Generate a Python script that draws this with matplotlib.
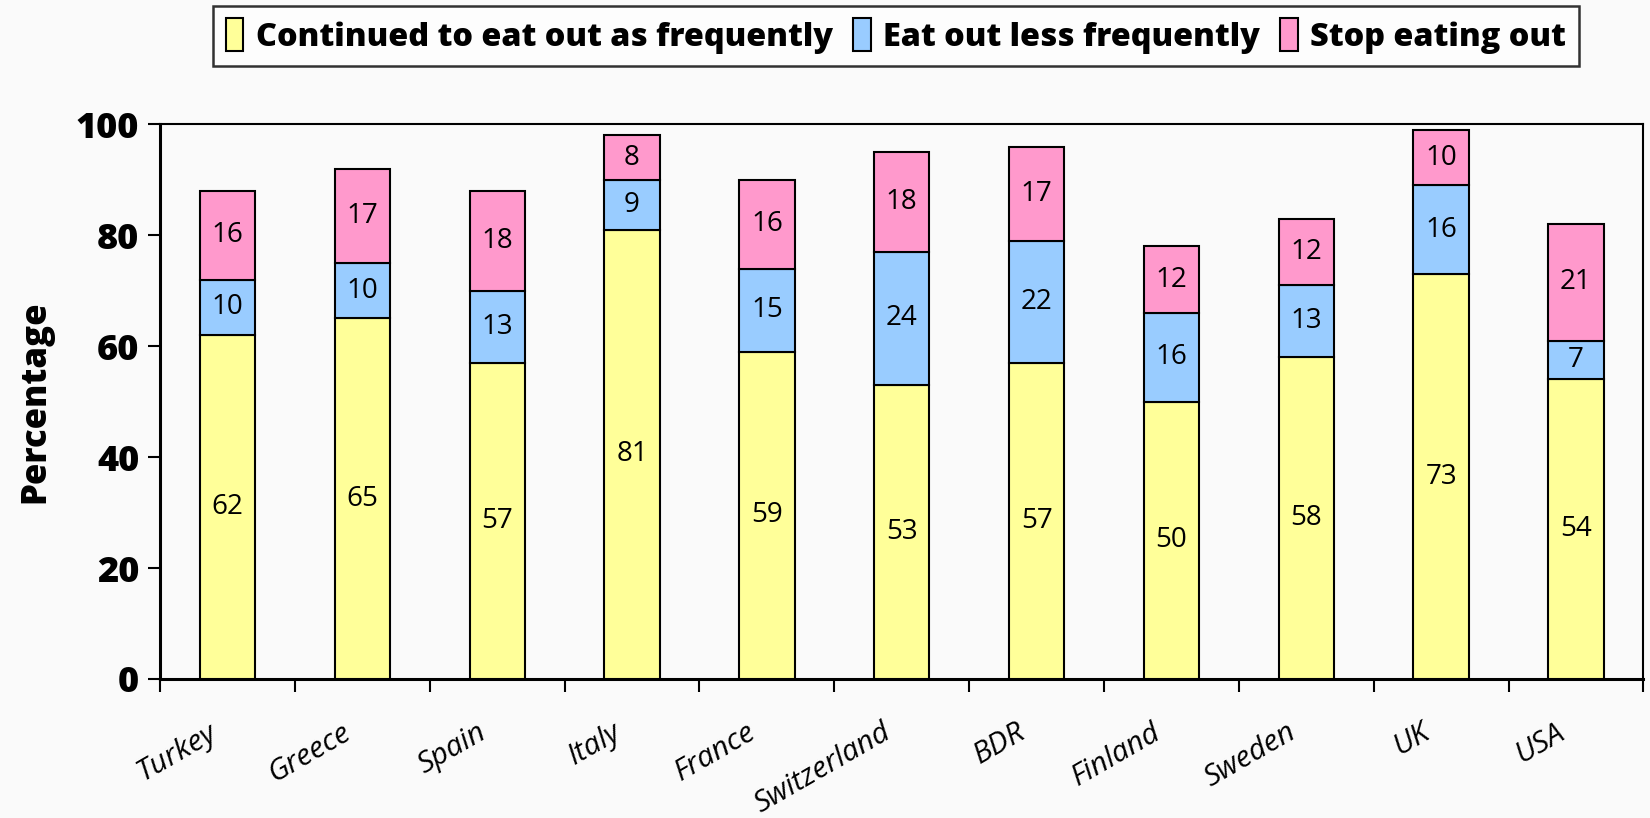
import matplotlib
matplotlib.use("Agg")
import matplotlib.pyplot as plt
import numpy as np
from matplotlib.transforms import ScaledTranslation

countries = ["Turkey", "Greece", "Spain", "Italy", "France", "Switzerland",
             "BDR", "Finland", "Sweden", "UK", "USA"]
same_freq = [62, 65, 57, 81, 59, 53, 57, 50, 58, 73, 54]
less_freq = [10, 10, 13, 9, 15, 24, 22, 16, 13, 16, 7]
stopped = [16, 17, 18, 8, 16, 18, 17, 12, 12, 10, 21]
series_names = ["Continued to eat out as frequently",
                "Eat out less frequently",
                "Stop eating out"]
colors = ["#FFFF99", "#99CCFF", "#FF99CC"]
y_ticks = [0, 20, 40, 60, 80, 100]

plt.rcParams['font.family'] = ['Open Sans', 'DejaVu Sans']
bg = "#fafafa"

fig = plt.figure(figsize=(16.5, 8.18), dpi=100, facecolor=bg)
ax = fig.add_axes([0.097, 0.170, 0.899, 0.678], facecolor=bg)

x = np.arange(len(countries))
width = 0.41
bottom = np.zeros(len(countries))
handles = []
for vals, col, name in zip([same_freq, less_freq, stopped], colors, series_names):
    vals = np.array(vals, dtype=float)
    bars = ax.bar(x, vals, width, bottom=bottom, color=col, edgecolor="black",
                  linewidth=1.5, label=name, zorder=3)
    handles.append(bars)
    for xi, b, v in zip(x, bottom, vals):
        ax.text(xi, b + v / 2, f"{int(v)}", ha="center", va="center",
                fontsize=20, color="black", zorder=4)
    bottom += vals

ax.set_xlim(-0.5, len(countries) - 0.5)
ax.set_ylim(0, 100)
ax.set_yticks(y_ticks)
ax.set_yticklabels([str(t) for t in y_ticks], fontsize=26, fontweight=800)
ax.tick_params(axis="y", direction="out", length=9, width=1.5, pad=6)

# category ticks sit at slot boundaries, labels at slot centres
ax.set_xticks(np.arange(len(countries) + 1) - 0.5)
ax.set_xticklabels([])
ax.tick_params(axis="x", which="major", direction="out", length=9, width=1.5)
ax.set_xticks(x, minor=True)
ax.set_xticklabels(countries, minor=True, fontsize=21.5, style="italic",
                   rotation=30, ha="right", rotation_mode="anchor")
ax.tick_params(axis="x", which="minor", length=0, pad=28)
offset = ScaledTranslation(-0.2, 0, fig.dpi_scale_trans)
for lab in ax.get_xticklabels(minor=True):
    lab.set_transform(lab.get_transform() + offset)

ax.set_ylabel("Percentage", fontsize=25, fontweight=800, labelpad=16)

ax.spines["left"].set_linewidth(2.2)
ax.spines["bottom"].set_linewidth(2.2)
ax.spines["top"].set_linewidth(1.5)
ax.spines["right"].set_linewidth(1.5)

leg = fig.legend(handles=handles, labels=series_names, loc="center",
                 bbox_to_anchor=(0.543, 0.956), ncol=3, frameon=True,
                 fancybox=False, edgecolor="black", facecolor="white",
                 prop={"weight": 800, "size": 23.3},
                 handlelength=0.55, handleheight=1.15, handletextpad=0.4,
                 columnspacing=0.6, borderpad=0.38)
leg.get_frame().set_linewidth(1.8)

fig.savefig("out.png", dpi=100, facecolor=bg)
